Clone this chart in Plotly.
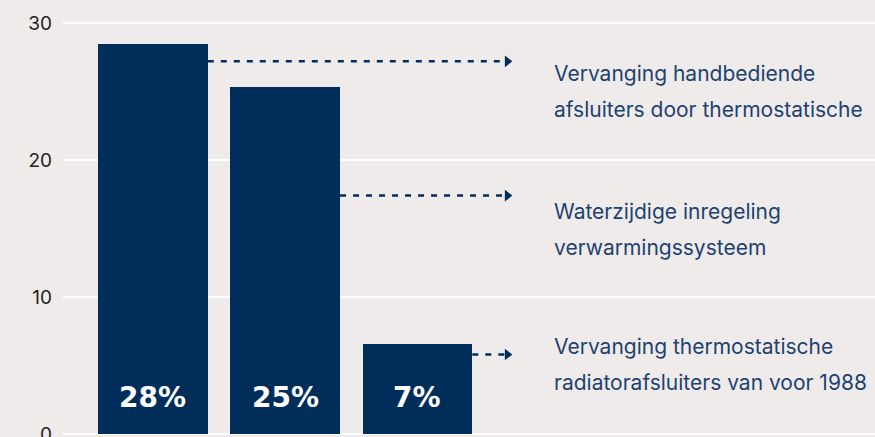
import plotly.graph_objects as go

# Data
categories = [0, 1, 2]
values = [28.5, 25.3, 6.6]
pct_labels = ["28%", "25%", "7%"]
arrow_y = [27.2, 17.4, 5.8]
label_y = [25.0, 14.9, 5.1]
label_lines = [
    ["Vervanging handbediende", "afsluiters door thermostatische"],
    ["Waterzijdige inregeling", "verwarmingssysteem"],
    ["Vervanging thermostatische", "radiatorafsluiters van voor 1988"],
]
y_ticks = [0, 10, 20, 30]

BG = "#efebea"
NAVY = "#012d5b"
TXT = "#1e4271"
bar_w = 0.83
arrow_end = 2.71
text_x = 3.02
line_gap = 1.31

fig = go.Figure()
fig.add_trace(go.Bar(x=categories, y=values, width=bar_w,
                     marker=dict(color=NAVY, line=dict(width=0)),
                     hoverinfo="skip", showlegend=False))

for i, ay in enumerate(arrow_y):
    x0 = categories[i] + bar_w / 2
    fig.add_trace(go.Scatter(x=[x0, arrow_end - 0.04], y=[ay, ay], mode="lines",
                             line=dict(color=NAVY, width=2.5, dash="6px,7px"),
                             hoverinfo="skip", showlegend=False))
    fig.add_trace(go.Scatter(x=[arrow_end - 0.03], y=[ay], mode="markers",
                             marker=dict(symbol="triangle-right", size=10, color=NAVY),
                             hoverinfo="skip", showlegend=False))

annotations = []
for i, lines in enumerate(label_lines):
    for j, line in enumerate(lines):
        annotations.append(dict(x=text_x, y=label_y[i] + line_gap * (1 - 2 * j),
                                xref="x", yref="y", text=line, showarrow=False,
                                xanchor="left", yanchor="middle",
                                font=dict(family="Inter", size=21, color=TXT)))
for i, t in enumerate(pct_labels):
    annotations.append(dict(x=categories[i], y=2.63, xref="x", yref="y", text=t,
                            showarrow=False, xanchor="center", yanchor="middle",
                            font=dict(family="DejaVu Sans", size=28, color="white", weight="bold")))

fig.update_layout(
    width=875, height=437,
    margin=dict(l=63, r=0, t=0, b=0),
    paper_bgcolor=BG, plot_bgcolor=BG,
    annotations=annotations,
    bargap=0,
)
fig.update_xaxes(range=[-0.68, 5.46], showgrid=False, zeroline=False,
                 showticklabels=False, fixedrange=True, automargin=False)
fig.update_yaxes(range=[-0.22, 31.68], tickvals=y_ticks, showgrid=True,
                 gridcolor="white", gridwidth=2, zeroline=True, zerolinecolor="white",
                 zerolinewidth=2, ticks="", ticklabelstandoff=10,
                 ticklabeloverflow="allow", automargin=False,
                 tickfont=dict(family="Inter", size=19, color="#222222"),
                 fixedrange=True)

fig.write_html("out.html", config={"displayModeBar": False},
               post_script="document.body.style.margin='0';document.body.style.overflow='hidden';")
